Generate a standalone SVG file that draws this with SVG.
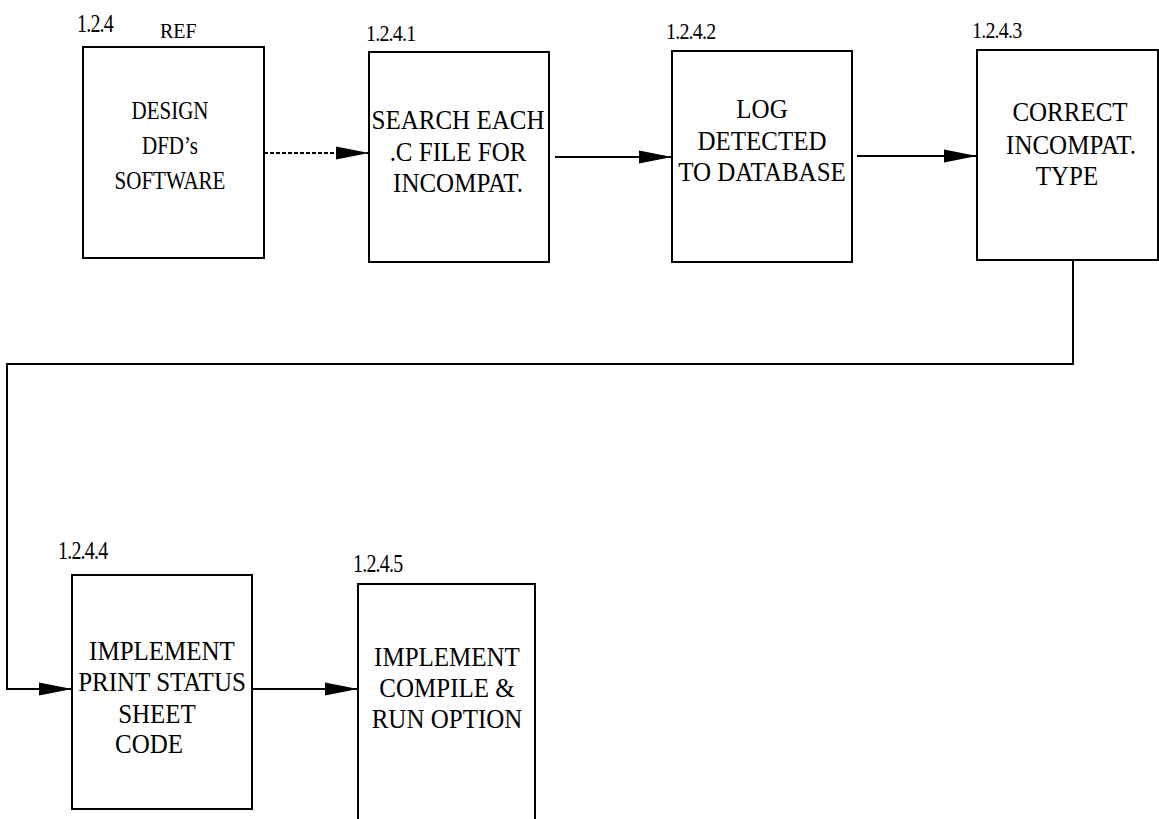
<svg xmlns="http://www.w3.org/2000/svg" width="1159" height="819" viewBox="0 0 1159 819">
<style>
  .box { fill: #fff; stroke: #000; stroke-width: 2; }
  .t { font-size: 25px; text-anchor: middle; }
  .t1 { font-size: 21px; text-anchor: middle; }
  .lbl { font-size: 20px; letter-spacing: -0.8px; }
  .c { fill: none; stroke: #000; stroke-width: 2; }
  .dash { stroke-dasharray: 4 2; }
</style>
<defs>
  <marker id="ah" markerUnits="userSpaceOnUse" markerWidth="34" markerHeight="14" refX="33" refY="7" orient="auto">
    <path d="M0,0.5 L33,7 L0,13.5 Z" fill="#000"/>
  </marker>
</defs>
<rect width="1159" height="819" fill="#fff"/>
<g id="connectors">
  <path class="c dash" d="M264,153 L369,153" marker-end="url(#ah)"/>
  <path class="c" d="M555,157 L672,157" marker-end="url(#ah)"/>
  <path class="c" d="M857,156 L977,156" marker-end="url(#ah)"/>
  <path class="c" d="M1073,260 L1073,364 L7,364 L7,689 L72,689" marker-end="url(#ah)"/>
  <path class="c" d="M252,689 L358,689" marker-end="url(#ah)"/>
</g>
<g font-family="Liberation Serif, Times New Roman, serif" fill="#000">
<g id="n124">
  <rect class="box" x="83" y="47" width="181" height="211"/>
  <text class="lbl" transform="translate(77,32) scale(1,1.3)">1.2.4</text>
  <text class="lbl" transform="translate(160,38) scale(1,1.1)" style="letter-spacing:0">REF</text>
  <text class="t1" transform="translate(170,119) scale(1,1.2)">DESIGN</text>
  <text class="t1" transform="translate(170,154) scale(1,1.2)">DFD’s</text>
  <text class="t1" transform="translate(170,189) scale(1,1.2)">SOFTWARE</text>
</g>
<g id="n1241">
  <rect class="box" x="369" y="52" width="180" height="210"/>
  <text class="lbl" transform="translate(366,41) scale(1,1.2)">1.2.4.1</text>
  <text class="t" transform="translate(458,129) scale(1,1.1)">SEARCH EACH</text>
  <text class="t" transform="translate(458,161) scale(1,1.1)">.C FILE FOR</text>
  <text class="t" transform="translate(458,192) scale(1,1.1)">INCOMPAT.</text>
</g>
<g id="n1242">
  <rect class="box" x="672" y="51" width="180" height="211"/>
  <text class="lbl" transform="translate(666,39) scale(1,1.2)">1.2.4.2</text>
  <text class="t" transform="translate(762,118) scale(1,1.1)">LOG</text>
  <text class="t" transform="translate(762,150) scale(1,1.1)">DETECTED</text>
  <text class="t" transform="translate(762,181) scale(1,1.1)">TO DATABASE</text>
</g>
<g id="n1243">
  <rect class="box" x="977" y="50" width="181" height="210"/>
  <text class="lbl" transform="translate(972,38) scale(1,1.2)">1.2.4.3</text>
  <text class="t" transform="translate(1070,121) scale(1,1.1)">CORRECT</text>
  <text class="t" transform="translate(1071,154) scale(1,1.1)">INCOMPAT.</text>
  <text class="t" transform="translate(1067,185) scale(1,1.1)">TYPE</text>
</g>
<g id="n1244">
  <rect class="box" x="72" y="575" width="180" height="234"/>
  <text class="lbl" transform="translate(58,559) scale(1,1.25)">1.2.4.4</text>
  <text class="t" transform="translate(162,660) scale(1,1.1)">IMPLEMENT</text>
  <text class="t" transform="translate(162,691) scale(1,1.1)">PRINT STATUS</text>
  <text class="t" transform="translate(157,723) scale(1,1.1)">SHEET</text>
  <text class="t" transform="translate(149,753) scale(1,1.1)">CODE</text>
</g>
<g id="n1245">
  <rect class="box" x="358" y="584" width="177" height="245"/>
  <text class="lbl" transform="translate(353,572) scale(1,1.25)">1.2.4.5</text>
  <text class="t" transform="translate(447,666) scale(1,1.1)">IMPLEMENT</text>
  <text class="t" transform="translate(447,697) scale(1,1.1)">COMPILE &amp;</text>
  <text class="t" transform="translate(447,728) scale(1,1.1)">RUN OPTION</text>
</g>
</g>
</svg>
